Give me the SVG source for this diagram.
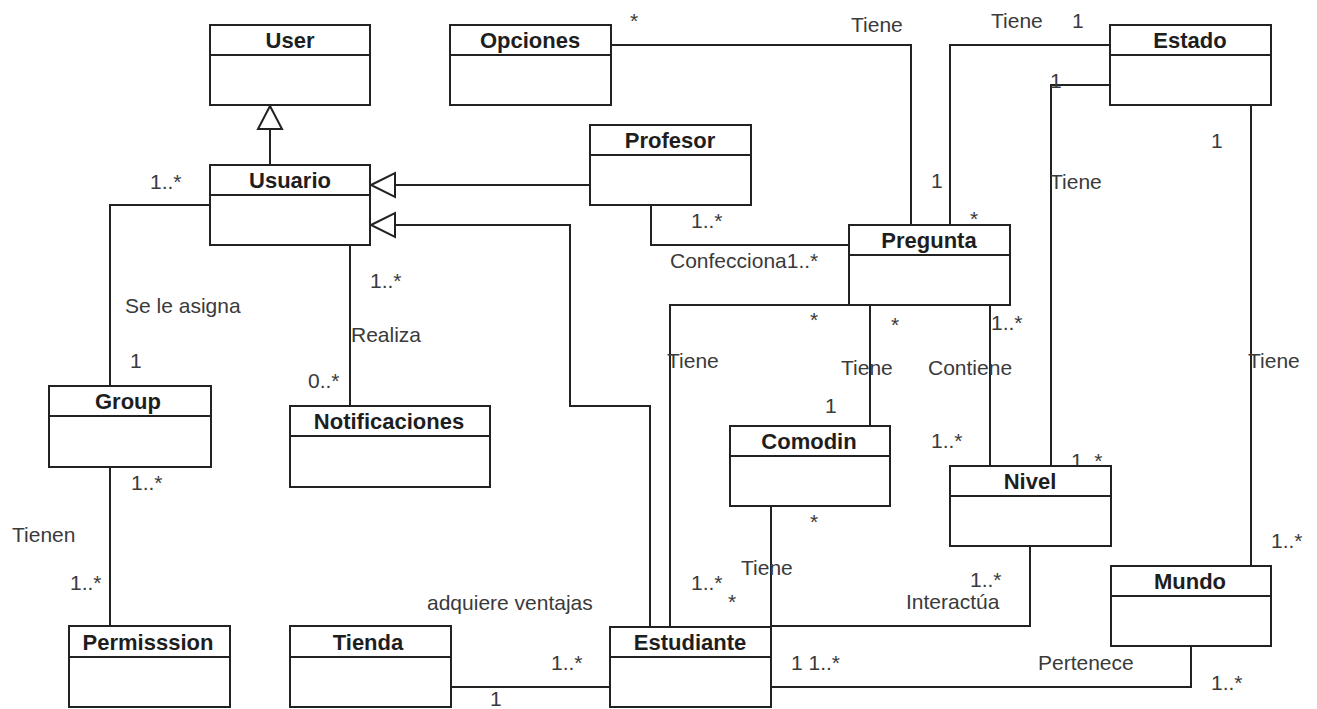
<svg xmlns="http://www.w3.org/2000/svg" width="1317" height="709" viewBox="0 0 1317 709">
  <style>
    .box { fill: #ffffff; stroke: #222222; stroke-width: 2; }
    .sep { stroke: #222222; stroke-width: 2; }
    .name { font-family: "Liberation Sans", Arial, sans-serif; font-size: 22px; font-weight: bold; fill: #1e1e1e; text-anchor: middle; }
    .lbl { font-family: "Liberation Sans", Arial, sans-serif; font-size: 21px; fill: #3a3a3a; }
    .wire { fill: none; stroke: #222222; stroke-width: 2; }
    .gen { fill: #ffffff; stroke: #222222; stroke-width: 2; stroke-linejoin: miter; }
  </style>
  <rect width="1317" height="709" fill="#ffffff"/>

  <!-- associations and generalizations -->
  <g id="connectors">
    <!-- Usuario extends User -->
    <line class="wire" x1="270" y1="129" x2="270" y2="165"/>
    <polygon class="gen" points="270,106 258,129 282,129"/>
    <!-- Profesor extends Usuario -->
    <line class="wire" x1="395" y1="185" x2="590" y2="185"/>
    <polygon class="gen" points="371,185 395,173 395,197"/>
    <!-- Estudiante extends Usuario -->
    <polyline class="wire" points="395,225 570,225 570,406 650,406 650,627"/>
    <polygon class="gen" points="371,225 395,213 395,237"/>
    <!-- Usuario - Group -->
    <polyline class="wire" points="210,205 110,205 110,386"/>
    <!-- Usuario - Notificaciones -->
    <line class="wire" x1="350" y1="245" x2="350" y2="406"/>
    <!-- Group - Permisssion -->
    <line class="wire" x1="110" y1="467" x2="110" y2="626"/>
    <!-- Opciones - Pregunta -->
    <polyline class="wire" points="611,45 911,45 911,225"/>
    <!-- Profesor - Pregunta -->
    <polyline class="wire" points="651,205 651,245 849,245"/>
    <!-- Estado - Pregunta -->
    <polyline class="wire" points="1110,45 950,45 950,225"/>
    <!-- Estado - Nivel -->
    <polyline class="wire" points="1110,85 1051,85 1051,466"/>
    <!-- Estado - Mundo -->
    <line class="wire" x1="1251" y1="105" x2="1251" y2="566"/>
    <!-- Pregunta - Estudiante -->
    <polyline class="wire" points="849,305 670,305 670,627"/>
    <!-- Pregunta - Comodin -->
    <line class="wire" x1="870" y1="305" x2="870" y2="426"/>
    <!-- Pregunta - Nivel -->
    <line class="wire" x1="990" y1="305" x2="990" y2="466"/>
    <!-- Comodin - Estudiante -->
    <line class="wire" x1="771" y1="506" x2="771" y2="627"/>
    <!-- Nivel - Estudiante -->
    <polyline class="wire" points="1030,546 1030,626 771,626"/>
    <!-- Mundo - Estudiante -->
    <polyline class="wire" points="771,687 1191,687 1191,646"/>
    <!-- Tienda - Estudiante -->
    <line class="wire" x1="451" y1="687" x2="610" y2="687"/>

    <!-- association names and multiplicities -->
    <text class="lbl" x="851" y="32">Tiene</text>
    <text class="lbl" x="630" y="28">*</text>
    <text class="lbl" x="991" y="28">Tiene</text>
    <text class="lbl" x="1072" y="28">1</text>
    <text class="lbl" x="1050" y="88">1</text>
    <text class="lbl" x="1211" y="148">1</text>
    <text class="lbl" x="931" y="188">1</text>
    <text class="lbl" x="970" y="226">*</text>
    <text class="lbl" x="1050" y="189">Tiene</text>
    <text class="lbl" x="150" y="189">1..*</text>
    <text class="lbl" x="691" y="228">1..*</text>
    <text class="lbl" x="670" y="268">Confecciona1..*</text>
    <text class="lbl" x="370" y="288">1..*</text>
    <text class="lbl" x="125" y="313">Se le asigna</text>
    <text class="lbl" x="351" y="342">Realiza</text>
    <text class="lbl" x="130" y="368">1</text>
    <text class="lbl" x="308" y="388">0..*</text>
    <text class="lbl" x="810" y="327">*</text>
    <text class="lbl" x="667" y="368">Tiene</text>
    <text class="lbl" x="841" y="375">Tiene</text>
    <text class="lbl" x="825" y="413">1</text>
    <text class="lbl" x="891" y="332">*</text>
    <text class="lbl" x="991" y="330">1..*</text>
    <text class="lbl" x="928" y="375">Contiene</text>
    <text class="lbl" x="1248" y="368">Tiene</text>
    <text class="lbl" x="931" y="448">1..*</text>
    <text class="lbl" x="1071" y="468">1..*</text>
    <text class="lbl" x="131" y="490">1..*</text>
    <text class="lbl" x="12" y="542">Tienen</text>
    <text class="lbl" x="70" y="590">1..*</text>
    <text class="lbl" x="810" y="529">*</text>
    <text class="lbl" x="741" y="575">Tiene</text>
    <text class="lbl" x="691" y="590">1..*</text>
    <text class="lbl" x="728" y="609">*</text>
    <text class="lbl" x="427" y="610">adquiere ventajas</text>
    <text class="lbl" x="551" y="670">1..*</text>
    <text class="lbl" x="490" y="706">1</text>
    <text class="lbl" x="791" y="670">1  1..*</text>
    <text class="lbl" x="970" y="587">1..*</text>
    <text class="lbl" x="906" y="609">Interactúa</text>
    <text class="lbl" x="1038" y="670">Pertenece</text>
    <text class="lbl" x="1211" y="690">1..*</text>
    <text class="lbl" x="1271" y="548">1..*</text>
  </g>

  <!-- classes -->
  <g id="user">
    <rect class="box" x="210" y="25" width="160" height="80"/>
    <line class="sep" x1="210" y1="55" x2="370" y2="55"/>
    <text class="name" x="290" y="48">User</text>
  </g>
  <g id="usuario">
    <rect class="box" x="210" y="165" width="160" height="80"/>
    <line class="sep" x1="210" y1="195" x2="370" y2="195"/>
    <text class="name" x="290" y="188">Usuario</text>
  </g>
  <g id="opciones">
    <rect class="box" x="450" y="25" width="161" height="80"/>
    <line class="sep" x1="450" y1="55" x2="611" y2="55"/>
    <text class="name" x="530" y="48">Opciones</text>
  </g>
  <g id="profesor">
    <rect class="box" x="590" y="125" width="161" height="80"/>
    <line class="sep" x1="590" y1="155" x2="751" y2="155"/>
    <text class="name" x="670" y="148">Profesor</text>
  </g>
  <g id="estado">
    <rect class="box" x="1110" y="25" width="161" height="80"/>
    <line class="sep" x1="1110" y1="55" x2="1271" y2="55"/>
    <text class="name" x="1190" y="48">Estado</text>
  </g>
  <g id="pregunta">
    <rect class="box" x="849" y="225" width="161" height="80"/>
    <line class="sep" x1="849" y1="255" x2="1010" y2="255"/>
    <text class="name" x="929" y="248">Pregunta</text>
  </g>
  <g id="group">
    <rect class="box" x="49" y="386" width="162" height="81"/>
    <line class="sep" x1="49" y1="416" x2="211" y2="416"/>
    <text class="name" x="128" y="409">Group</text>
  </g>
  <g id="notificaciones">
    <rect class="box" x="290" y="406" width="200" height="81"/>
    <line class="sep" x1="290" y1="436" x2="490" y2="436"/>
    <text class="name" x="389" y="429">Notificaciones</text>
  </g>
  <g id="comodin">
    <rect class="box" x="730" y="426" width="160" height="80"/>
    <line class="sep" x1="730" y1="456" x2="890" y2="456"/>
    <text class="name" x="809" y="449">Comodin</text>
  </g>
  <g id="nivel">
    <rect class="box" x="950" y="466" width="161" height="80"/>
    <line class="sep" x1="950" y1="496" x2="1111" y2="496"/>
    <text class="name" x="1030" y="489">Nivel</text>
  </g>
  <g id="mundo">
    <rect class="box" x="1111" y="566" width="160" height="80"/>
    <line class="sep" x1="1111" y1="596" x2="1271" y2="596"/>
    <text class="name" x="1190" y="589">Mundo</text>
  </g>
  <g id="permisssion">
    <rect class="box" x="69" y="626" width="161" height="81"/>
    <line class="sep" x1="69" y1="657" x2="230" y2="657"/>
    <text class="name" x="148" y="650">Permisssion</text>
  </g>
  <g id="tienda">
    <rect class="box" x="290" y="626" width="161" height="81"/>
    <line class="sep" x1="290" y1="657" x2="451" y2="657"/>
    <text class="name" x="368" y="650">Tienda</text>
  </g>
  <g id="estudiante">
    <rect class="box" x="610" y="627" width="161" height="80"/>
    <line class="sep" x1="610" y1="657" x2="771" y2="657"/>
    <text class="name" x="690" y="650">Estudiante</text>
  </g>
</svg>
